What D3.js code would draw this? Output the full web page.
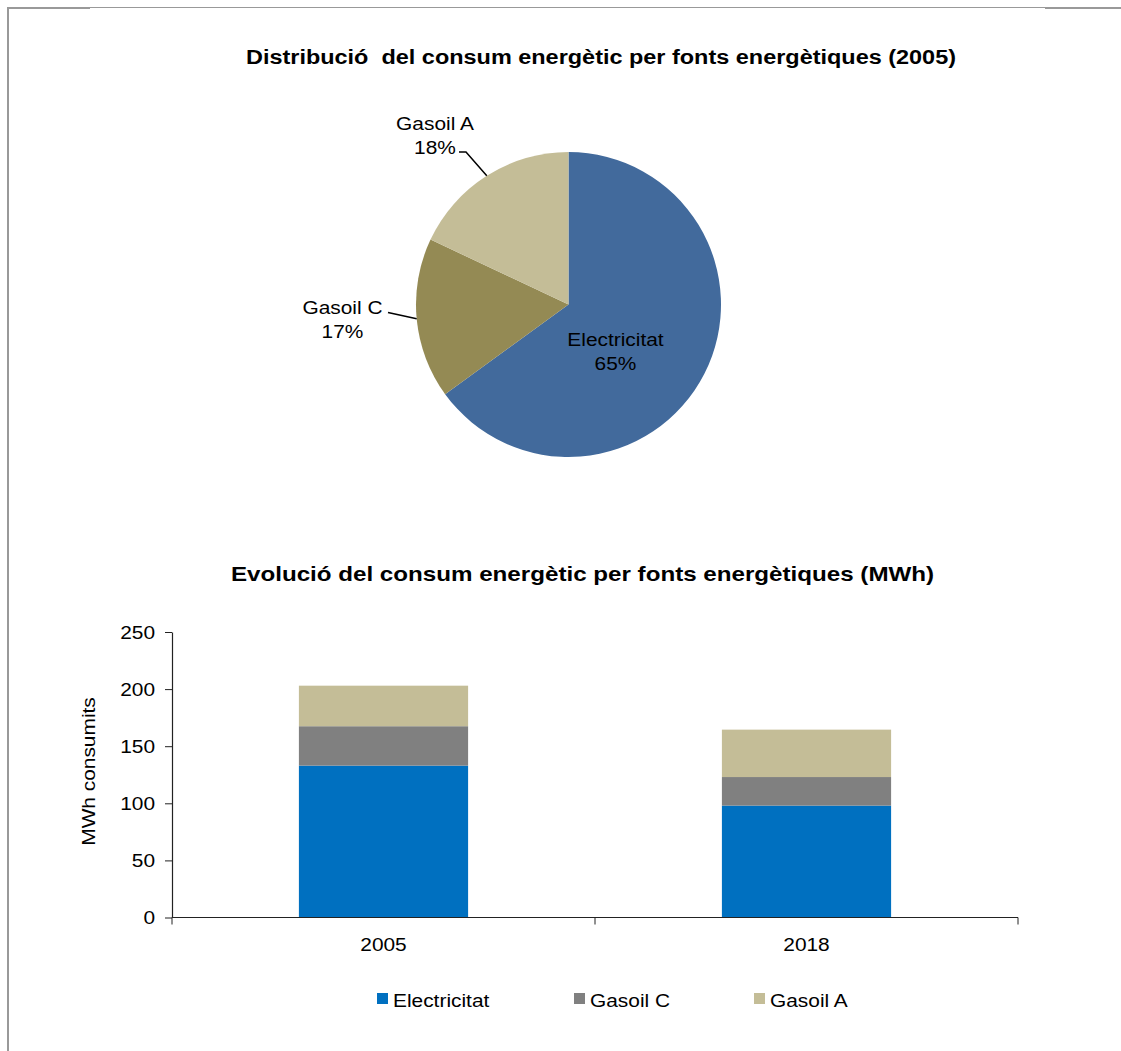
<!DOCTYPE html>
<html>
<head>
<meta charset="utf-8">
<script src="https://cdn.jsdelivr.net/npm/d3@7"></script>
<style>
  html, body { margin: 0; padding: 0; background: #fff; }
  svg { display: block; font-family: "Liberation Sans", Arial, sans-serif; }
  text { white-space: pre; }
</style>
</head>
<body>
<svg id="chart" width="1121" height="1051"></svg>
<script>
// Energy sources
const sources = ["Electricitat", "Gasoil C", "Gasoil A"];

// 2005 share of consumption by source (%)
const share2005 = [65, 17, 18];

// Yearly consumption (MWh) by source
const years = ["2005", "2018"];
const electricitat = [133, 98];
const gasoilC = [34.5, 25];
const gasoilA = [35.5, 41.5];

const yTicks = [0, 50, 100, 150, 200, 250];

const pieColors = ["#426A9C", "#948A54", "#C4BD97"];
const barColors = ["#0070C0", "#808080", "#C4BD97"];

const svg = d3.select("#chart");
const SX = 1.13; // horizontal stretch of the lettering

function label(g, x, y, str, o = {}) {
  return g.append("text")
    .attr("transform", `translate(${x},${y}) rotate(${o.rotate || 0}) scale(${o.sx || SX},1)`)
    .attr("text-anchor", o.anchor || "middle")
    .attr("dominant-baseline", o.baseline || "auto")
    .style("font-size", (o.size || 18.5) + "px")
    .style("font-weight", o.bold ? "bold" : "normal")
    .style("fill", "#000")
    .text(str);
}

// frame lines
const frame = svg.append("g").attr("stroke", "#999").attr("fill", "none");
frame.append("line").attr("x1", 8).attr("x2", 8).attr("y1", 7).attr("y2", 1051).attr("stroke-width", 2);
frame.append("line").attr("x1", 7).attr("x2", 1121).attr("y1", 7.5).attr("y2", 7.5).attr("stroke-width", 1);
frame.append("line").attr("x1", 7).attr("x2", 90).attr("y1", 8).attr("y2", 8).attr("stroke-width", 2);
frame.append("line").attr("x1", 1045).attr("x2", 1121).attr("y1", 8).attr("y2", 8).attr("stroke-width", 2);

// ---------- Pie: distribution 2005 ----------
label(svg, 601, 64, "Distribució  del consum energètic per fonts energètiques (2005)", { size: 21, bold: true, sx: 1.117 });

const cx = 568.5, cy = 304.5, R = 152.5;
const pieG = svg.append("g").attr("transform", `translate(${cx},${cy})`);
const arcs = d3.pie().sort(null).value(d => d)(share2005);
const arcGen = d3.arc().innerRadius(0).outerRadius(R);

pieG.selectAll("path.slice")
  .data(arcs)
  .join("path")
  .attr("class", "slice")
  .attr("d", arcGen)
  .attr("fill", (d, i) => pieColors[i]);

// label anchors (relative to the pie centre): first-line baseline, and leader start
const pieLabelLayout = [
  { x: 47, y: 42.5, leader: null },
  { x: -226, y: 10.5, leader: [[-180.5, 8]] },
  { x: -133.5, y: -173.5, leader: [[-109.5, -152.5], [-102.5, -152.5]] }
];

arcs.forEach((a, i) => {
  const L = pieLabelLayout[i];
  label(pieG, L.x, L.y - 1, sources[i]);
  label(pieG, L.x, L.y + 22.5, share2005[i] + "%");
  if (L.leader) {
    const mid = (a.startAngle + a.endAngle) / 2;
    const end = [Math.sin(mid) * R, -Math.cos(mid) * R];
    pieG.append("path")
      .attr("d", d3.line()([...L.leader, end]))
      .attr("fill", "none")
      .attr("stroke", "#000")
      .attr("stroke-width", 1.5);
  }
});

// ---------- Stacked bars: evolution ----------
label(svg, 582.5, 581, "Evolució del consum energètic per fonts energètiques (MWh)", { size: 21, bold: true, sx: 1.151 });

const plot = { left: 172, right: 1018, top: 632, bottom: 917.5 };

const x = d3.scaleBand().domain(years).range([plot.left, plot.right]).paddingInner(0.6).paddingOuter(0.3);
const xAxisScale = d3.scaleBand().domain(years).range([plot.left, plot.right]);
const y = d3.scaleLinear().domain([0, 250]).range([plot.bottom, plot.top]);

const table = years.map((yr, i) => ({
  year: yr,
  "Electricitat": electricitat[i],
  "Gasoil C": gasoilC[i],
  "Gasoil A": gasoilA[i]
}));
const stacked = d3.stack().keys(sources)(table);

svg.append("g")
  .selectAll("g")
  .data(stacked)
  .join("g")
  .attr("fill", (d, i) => barColors[i])
  .selectAll("rect")
  .data(d => d)
  .join("rect")
  .attr("x", d => x(d.data.year))
  .attr("width", x.bandwidth())
  .attr("y", d => y(d[1]))
  .attr("height", d => y(d[0]) - y(d[1]));

// y axis
const yAxis = svg.append("g")
  .attr("transform", `translate(${plot.left},0)`)
  .call(d3.axisLeft(y).tickValues(yTicks).tickSize(7).tickSizeOuter(0).tickFormat(d3.format("d")));
yAxis.select(".domain").attr("stroke", "#222").attr("stroke-width", 1.2);
yAxis.selectAll(".tick line").attr("stroke", "#222");
yAxis.selectAll(".tick text").remove();
yTicks.forEach(t => label(svg, 155, y(t), String(t), { anchor: "end", baseline: "central" }));

label(svg, 95, 771.5, "MWh consumits", { rotate: -90 });

// x axis: ticks at the category boundaries
const xAxisG = svg.append("g").attr("transform", `translate(0,${plot.bottom})`);
xAxisG.append("line")
  .attr("x1", plot.left).attr("x2", plot.right)
  .attr("stroke", "#222").attr("stroke-width", 1.2);
const boundaries = [plot.left, ...years.map(yr => xAxisScale(yr) + xAxisScale.bandwidth())];
xAxisG.selectAll("line.tk")
  .data(boundaries)
  .join("line")
  .attr("class", "tk")
  .attr("x1", d => d).attr("x2", d => d)
  .attr("y1", 0).attr("y2", 7)
  .attr("stroke", "#222");
years.forEach(yr => label(svg, xAxisScale(yr) + xAxisScale.bandwidth() / 2, 951, yr));

// legend
const legendX = [377, 574, 754];
sources.forEach((s, i) => {
  svg.append("rect")
    .attr("x", legendX[i]).attr("y", 993)
    .attr("width", 11).attr("height", 11)
    .attr("fill", barColors[i]);
  label(svg, legendX[i] + 16, 1007, s, { anchor: "start" });
});
</script>
</body>
</html>
